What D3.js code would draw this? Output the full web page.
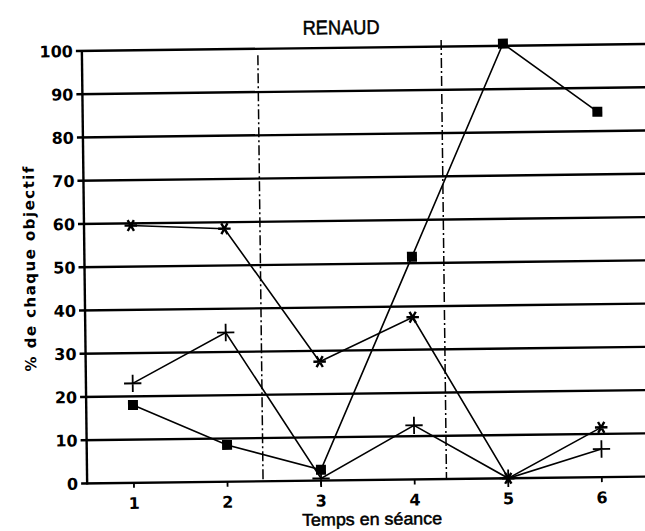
<!DOCTYPE html>
<html>
<head>
    <meta charset="UTF-8">
    <style>
        body { margin: 0; background: #fff; }
        .grid line { stroke: #000; stroke-width: 2.4px; }
        .serie { fill: none; stroke: #000; stroke-width: 1.6px; }
        .sep { stroke: #000; stroke-width: 1.5px; stroke-dasharray: 10,3,2,3; }
        text { fill: #000; }
        .titre { stroke: #000; stroke-width: 0.5px; }
    </style>
</head>
<body>
    <script src="https://d3js.org/d3.v7.min.js"></script>
    <script>
// valeurs (% de chaque objectif)
var temps = [1, 2, 3, 4, 5, 6];
var carres = [18, 8.5, 2.5, 51.5, 100.5, 84.5];
var etoiles = [59.5, 58.5, 27.5, 37.5, 0, 11.5];
var croix = [23, 34.5, 0.5, 12.5, 0, 6.5];
var yTicks = [0, 10, 20, 30, 40, 50, 60, 70, 80, 90, 100];
var separations = [[2.38, 98.5], [4.34, 101.5]];

var width = 645, height = 531;
var svg = d3.select("body").append("svg").attr("width", width).attr("height", height);
// le scan est legerement tourne
var g = svg.append("g").attr("transform", "rotate(-0.7,365,265)");

var x = d3.scaleLinear().domain([0.5, 6.5]).range([84.5, 646]);
var y = d3.scaleLinear().domain([0, 100]).range([480, 47.5]);

var grid = g.append("g").attr("class", "grid");
grid.selectAll("line").data(yTicks).enter().append("line")
    .attr("x1", x(0.5) - 6).attr("x2", 660)
    .attr("y1", function(d) { return y(d); })
    .attr("y2", function(d) { return y(d); });
grid.append("line")
    .attr("x1", x(0.5)).attr("x2", x(0.5))
    .attr("y1", y(100) - 1).attr("y2", y(0) + 1);
grid.selectAll(".xt").data(temps).enter().append("line")
    .attr("class", "xt")
    .attr("x1", function(d) { return x(d); }).attr("x2", function(d) { return x(d); })
    .attr("y1", y(0)).attr("y2", y(0) + 5)
    .style("stroke-width", "1.8px");

g.selectAll(".sep").data(separations).enter().append("line")
    .attr("class", "sep")
    .attr("x1", function(d) { return x(d[0]); }).attr("x2", function(d) { return x(d[0]); })
    .attr("y1", function(d) { return y(d[1]); }).attr("y2", y(0));

g.selectAll(".ylab").data(yTicks).enter().append("text")
    .attr("class", "ylab")
    .attr("x", x(0.5) - 9)
    .attr("y", function(d) { return y(d) + 6; })
    .attr("text-anchor", "end")
    .style("font", "bold 16px 'DejaVu Sans'")
    .text(function(d) { return d; });

g.selectAll(".xlab").data(temps).enter().append("text")
    .attr("class", "xlab")
    .attr("x", function(d) { return x(d); })
    .attr("y", 506)
    .attr("text-anchor", "middle")
    .style("font", "bold 16px 'DejaVu Sans'")
    .text(function(d) { return d; });

g.append("text")
    .attr("class", "titre")
    .attr("x", 344).attr("y", 34)
    .attr("text-anchor", "middle")
    .attr("textLength", 77).attr("lengthAdjust", "spacingAndGlyphs")
    .style("font", "20px 'Liberation Sans'")
    .text("RENAUD");

g.append("text")
    .attr("class", "titre")
    .attr("x", 369).attr("y", 525)
    .attr("text-anchor", "middle")
    .attr("textLength", 140).attr("lengthAdjust", "spacingAndGlyphs")
    .style("font", "17px 'Liberation Sans'")
    .text("Temps en séance");

g.append("text")
    .attr("transform", "translate(35,265) rotate(-90)")
    .attr("text-anchor", "middle")
    .attr("textLength", 205).attr("lengthAdjust", "spacing")
    .style("font", "bold 15px 'DejaVu Sans'")
    .text("% de chaque objectif");

var line = d3.line()
    .x(function(d, i) { return x(temps[i]); })
    .y(function(d) { return y(d); });

[carres, etoiles, croix].forEach(function(s) {
    g.append("path").datum(s).attr("class", "serie").attr("d", line);
});

var sq = d3.symbol().type(d3.symbolSquare).size(100);
g.selectAll(".carre").data(carres).enter().append("path")
    .attr("class", "carre")
    .attr("d", sq)
    .attr("transform", function(d, i) { return "translate(" + x(temps[i]) + "," + y(d) + ")"; })
    .style("fill", "#000");

var ast = d3.symbol().type(d3.symbolAsterisk || d3.symbolCross).size(110);
g.selectAll(".etoile").data(etoiles).enter().append("path")
    .attr("class", "etoile")
    .attr("d", ast)
    .attr("transform", function(d, i) { return "translate(" + x(temps[i]) + "," + y(d) + ") rotate(90)"; })
    .style("fill", "none").style("stroke", "#000").style("stroke-width", "2.4px");

var plus = d3.symbol().type(d3.symbolPlus || d3.symbolCross).size(100);
g.selectAll(".croix").data(croix).enter().append("path")
    .attr("class", "croix")
    .attr("d", plus)
    .attr("transform", function(d, i) { return "translate(" + x(temps[i]) + "," + y(d) + ")"; })
    .style("fill", "none").style("stroke", "#000").style("stroke-width", "1.8px");
</script>
</body>
</html>
